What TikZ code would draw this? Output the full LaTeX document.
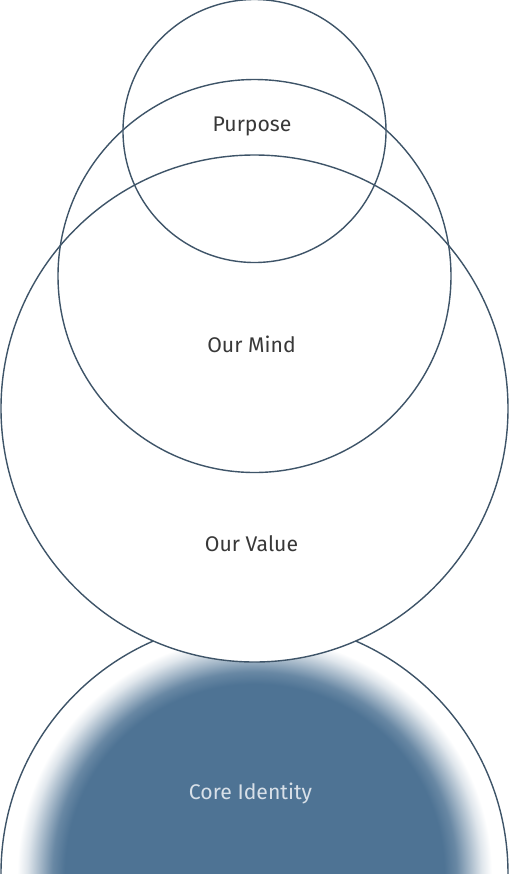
\documentclass[tikz,border=0pt]{standalone}
\usepackage{fontspec}
\setmainfont{Fira Sans}
\definecolor{bleucoeur}{HTML}{4E7394}
\definecolor{trait}{HTML}{3E5468}
\definecolor{gristexte}{HTML}{383838}
\definecolor{clairtexte}{HTML}{D8E0E8}
\pgfdeclareradialshading{fondu}{\pgfpoint{0bp}{0bp}}{color(0bp)=(bleucoeur); color(18.7bp)=(bleucoeur); color(19.9bp)=(bleucoeur!85!white); color(21.2bp)=(bleucoeur!50!white); color(22.4bp)=(bleucoeur!18!white); color(23.4bp)=(white); color(50bp)=(white)}

\begin{document}
\begin{tikzpicture}[x=0.5pt, y=-0.5pt]
\tikzset{cercle/.style={draw=trait, line width=0.7pt, circle, inner sep=0pt},
  etiquette/.style={anchor=base, text=gristexte, font=\fontsize{10.6}{12}\selectfont}}
\useasboundingbox (0,0) rectangle (510,874);
\clip (0,0) rectangle (510,874);
\node[cercle, shading=fondu, minimum size=253.5pt] (C4) at (254.5,873.5) {};
\node[cercle, fill=white, minimum size=253.5pt] (C3) at (254.5,408.5) {};
\node[cercle, minimum size=196.5pt] (C2) at (254.5,276) {};
\node[cercle, minimum size=131.5pt] (C1) at (254.5,131) {};
\node[etiquette] (T1) at (252,131) {Purpose};
\node[etiquette] (T2) at (251.5,352) {Our Mind};
\node[etiquette] (T3) at (251.5,551) {Our Value};
\node[etiquette, text=clairtexte] (T4) at (250.5,799) {Core Identity};
\end{tikzpicture}
\end{document}
